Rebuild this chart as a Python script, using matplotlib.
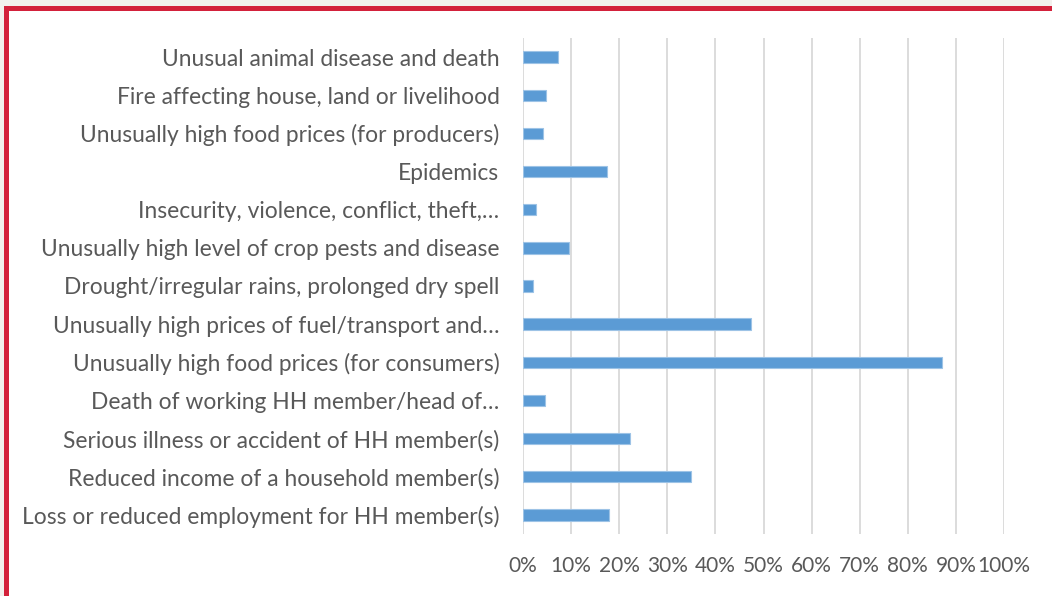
import matplotlib
matplotlib.use("Agg")
import matplotlib.pyplot as plt
from matplotlib.patches import Rectangle
from matplotlib.ticker import FuncFormatter

categories = [
    "Loss or reduced employment for HH member(s)",
    "Reduced income of a household member(s)",
    "Serious illness or accident of HH member(s)",
    "Death of working HH member/head of…",
    "Unusually high food prices (for consumers)",
    "Unusually high prices of fuel/transport and…",
    "Drought/irregular rains, prolonged dry spell",
    "Unusually high level of crop pests and disease",
    "Insecurity, violence, conflict, theft,…",
    "Epidemics",
    "Unusually high food prices (for producers)",
    "Fire affecting house, land or livelihood",
    "Unusual animal disease and death",
]
values = [0.179, 0.349, 0.223, 0.045, 0.871, 0.474, 0.020, 0.096, 0.026, 0.174, 0.042, 0.047, 0.072]
xticks = [0, 0.1, 0.2, 0.3, 0.4, 0.5, 0.6, 0.7, 0.8, 0.9, 1.0]

fig = plt.figure(figsize=(10.52, 5.96), dpi=100)
fig.patch.set_facecolor("#f2f0ed")
# white panel with red frame (left and top edges visible)
fig.patches.append(Rectangle((5.5/1052, -0.1), 1.2, 1.1 - 7.5/596,
                             transform=fig.transFigure, facecolor="white",
                             edgecolor="#d3213b", linewidth=3.6, zorder=-5))

ax = fig.add_axes([523/1052, 1 - 534/596, (1004 - 523)/1052, (534 - 38)/596])
ax.set_facecolor("none")
ypos = list(range(len(categories)))
ax.barh(ypos, values, height=0.30, color="#5b9bd5", edgecolor="#9dc3e6", linewidth=0.8, zorder=3)
ax.set_xlim(0, 1.0)
ax.set_ylim(-0.5, len(categories) - 0.5)
ax.set_xticks(xticks)
ax.xaxis.set_major_formatter(FuncFormatter(lambda v, p: f"{v*100:.0f}%"))
ax.set_yticks(ypos)
ax.set_yticklabels(categories)
ax.grid(axis="x", color="#d9d9d9", linewidth=1.3, zorder=0)
ax.set_axisbelow(True)
for s in ax.spines.values():
    s.set_visible(False)
ax.tick_params(axis="both", length=0, colors="#595959")
ax.tick_params(axis="x", pad=16, labelsize=15)
ax.tick_params(axis="y", pad=17, labelsize=16.4)
for lbl in ax.get_xticklabels() + ax.get_yticklabels():
    lbl.set_family(["Lato", "DejaVu Sans"])
    lbl.set_color("#595959")

fig.savefig("out.png", dpi=100, facecolor=fig.get_facecolor())
